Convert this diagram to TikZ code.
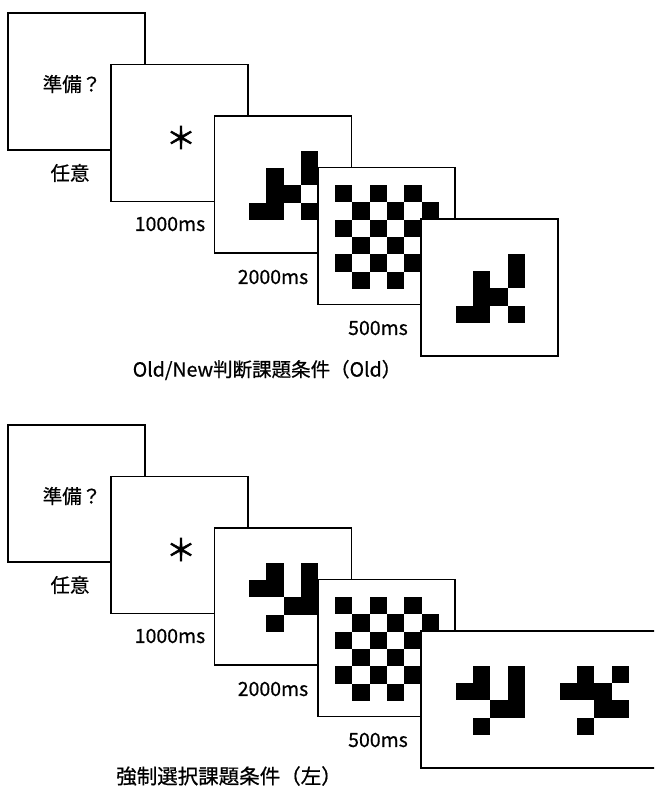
\documentclass[tikz,border=0pt]{standalone}
\usepackage{fontspec}
\setmainfont{Noto Sans CJK JP}[FakeBold=0.6]
\newfontfamily\astfont{Noto Sans CJK JP}[FakeBold=2]
\def\cs{17.35}
\newcommand\drawcells[3]{\foreach \c/\r in {#3}{\fill[black] (#1+\c*\cs,#2+\r*\cs) rectangle ++(\cs,\cs);}}
\newcommand\drawchecker[2]{\foreach \r in {0,...,5}{\foreach \c in {0,...,5}{\pgfmathtruncatemacro\myparity{mod(\r+\c,2)}\ifnum\myparity=0 \fill[black] (#1+\c*\cs,#2+\r*\cs) rectangle ++(\cs,\cs);\fi}}}
\begin{document}
\begin{tikzpicture}[x=1pt,y=-1pt,
  frame/.style={draw=black,fill=white,line width=1.8pt,minimum width=137pt,minimum height=137pt,inner sep=0pt,outer sep=0pt,anchor=north west},
  lbl/.style={font=\fontsize{19.5}{22}\selectfont,inner sep=0pt},
  caplbl/.style={font=\fontsize{20.5}{23}\selectfont,inner sep=0pt},
  astr/.style={font=\astfont\fontsize{30}{30}\selectfont,inner sep=0pt}]
\clip (0,0) rectangle (654,788);
\useasboundingbox (0,0) rectangle (654,788);
% ---------- top sequence ----------
\node[frame] (tf1) at (8,13) {};
\node[lbl] (tready) at (72,84) {準備？};
\node[lbl] (tany) at (70,173) {任意};
\node[frame] (tf2) at (111.25,64.5) {};
\node[astr] (tast) at (181,137.5) {＊};
\node[lbl] (t1000) at (170,224) {1000ms};
\node[frame] (tf3) at (214.5,116) {};
\drawcells{249}{150.5}{3/0,1/1,3/1,1/2,2/2,0/3,1/3,3/3}
\node[lbl] (t2000) at (273,277) {2000ms};
\node[frame] (tf4) at (317.75,167.5) {};
\drawchecker{335}{185}
\node[lbl] (t500) at (378,328) {500ms};
\node[frame] (tf5) at (421,219) {};
\drawcells{455.5}{253.5}{3/0,1/1,3/1,1/2,2/2,0/3,1/3,3/3}
\node[lbl] (tcap) at (267,370) {Old/New判断課題条件（Old）};
% ---------- bottom sequence ----------
\node[frame] (bf1) at (8,425) {};
\node[lbl] (bready) at (72,496) {準備？};
\node[lbl] (bany) at (70,585) {任意};
\node[frame] (bf2) at (111.25,476.5) {};
\node[astr] (bast) at (181,549.5) {＊};
\node[lbl] (b1000) at (170,636) {1000ms};
\node[frame] (bf3) at (214.5,528) {};
\drawcells{249}{562.5}{1/0,3/0,0/1,1/1,3/1,2/2,3/2,1/3}
\node[lbl] (b2000) at (273,689) {2000ms};
\node[frame] (bf4) at (317.75,579.5) {};
\drawchecker{335}{597}
\node[lbl] (b500) at (378,740) {500ms};
\node[frame,minimum width=241pt] (bf5) at (421,631) {};
\drawcells{455.5}{665.5}{1/0,3/0,0/1,1/1,3/1,2/2,3/2,1/3}
\drawcells{559.5}{665.5}{1/0,3/0,0/1,1/1,2/1,2/2,3/2,1/3}
\node[caplbl] (bcap) at (229,776) {強制選択課題条件（左）};
\end{tikzpicture}
\end{document}
